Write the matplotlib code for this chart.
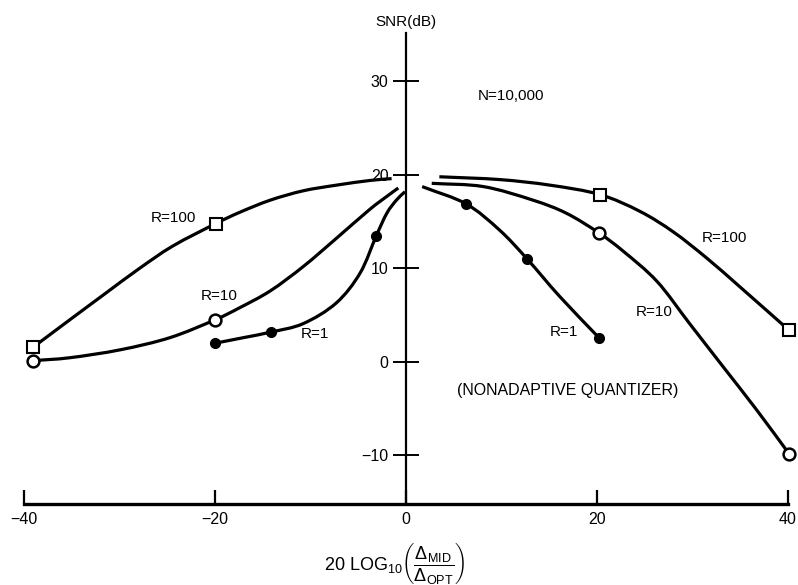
import matplotlib
matplotlib.use("Agg")
import numpy as np
from matplotlib import pyplot as plt
from matplotlib.path import Path
from matplotlib.patches import PathPatch

plt.rcParams['font.family'] = ['Liberation Sans', 'DejaVu Sans']
plt.rcParams['mathtext.fontset'] = 'custom'
plt.rcParams['mathtext.rm'] = 'Liberation Sans'
plt.rcParams['mathtext.it'] = 'Liberation Sans'
plt.rcParams['mathtext.default'] = 'regular'

# curves, x = 20 log10(dmid/dopt), y = SNR (dB)
left_r100_x = [-39.0, -35.2, -31.5, -27.9, -24.4, -19.9, -17.4, -14.2, -10.75, -7.3, -3.8, -1.5]
left_r100_y = [1.6, 4.5, 7.3, 10.0, 12.4, 14.8, 16.0, 17.3, 18.3, 18.9, 19.4, 19.6]
left_r10_x = [-39.0, -35.2, -29.9, -24.7, -20.0, -17.4, -14.2, -10.75, -7.3, -3.8, -2.0, -0.8]
left_r10_y = [0.14, 0.45, 1.3, 2.6, 4.5, 5.8, 7.6, 10.2, 13.2, 16.3, 17.7, 18.6]
left_r1_x = [-20.0, -17.0, -14.1, -10.75, -7.3, -4.8, -3.1, -2.0, -1.0, -0.1]
left_r1_y = [2.0, 2.6, 3.2, 4.1, 6.3, 9.5, 13.5, 15.9, 17.3, 18.2]

right_r100_x = [3.5, 9.8, 15.1, 20.3, 24.5, 28.0, 31.5, 35.0, 40.1]
right_r100_y = [19.8, 19.5, 18.9, 17.9, 16.1, 13.9, 11.1, 8.0, 3.4]
right_r10_x = [2.7, 8.1, 13.3, 16.8, 20.2, 22.8, 26.3, 29.7, 33.2, 36.7, 40.1]
right_r10_y = [19.1, 18.75, 17.3, 15.9, 13.8, 11.8, 8.6, 4.1, -0.5, -5.1, -9.8]
right_r1_x = [1.7, 6.3, 9.8, 12.7, 16.1, 20.2]
right_r1_y = [18.75, 16.9, 14.1, 11.0, 7.0, 2.6]

# measured points (markers)
r100_pts_x = [-39.0, -19.9, 20.3, 40.1]
r100_pts_y = [1.6, 14.8, 17.9, 3.4]
r10_pts_x = [-39.0, -20.0, 20.2, 40.1]
r10_pts_y = [0.14, 4.5, 13.8, -9.8]
r1_pts_x = [-20.0, -14.1, -3.1, 6.3, 12.7, 20.2]
r1_pts_y = [2.0, 3.2, 13.5, 16.9, 11.0, 2.6]

x_ticks = [-40, -20, 0, 20, 40]
y_ticks = [-10, 0, 10, 20, 30]
x_tick_labels = ['\u221240', '\u221220', '0', '20', '40']
y_tick_labels = ['\u221210', '0', '10', '20', '30']


def smooth_path(xs, ys):
    # Catmull-Rom through the read points, drawn as cubic Bezier segments
    p = np.column_stack([xs, ys])
    ext = np.vstack([2 * p[0] - p[1], p, 2 * p[-1] - p[-2]])
    verts = [p[0]]
    codes = [Path.MOVETO]
    for i in range(1, len(ext) - 2):
        c1 = ext[i] + (ext[i + 1] - ext[i - 1]) / 6
        c2 = ext[i + 1] - (ext[i + 2] - ext[i]) / 6
        verts += [c1, c2, ext[i + 1]]
        codes += [Path.CURVE4] * 3
    return Path(verts, codes)


fig = plt.figure(figsize=(7.98, 5.85), dpi=100)
ax = fig.add_axes([0, 0, 1, 1])
ax.set_xlim(-42.5, 41.05)
ax.set_ylim(-23.85, 38.7)

for xs, ys in [(left_r100_x, left_r100_y), (left_r10_x, left_r10_y), (left_r1_x, left_r1_y),
               (right_r100_x, right_r100_y), (right_r10_x, right_r10_y), (right_r1_x, right_r1_y)]:
    ax.add_patch(PathPatch(smooth_path(xs, ys), fill=False, edgecolor='black', lw=2.3,
                           capstyle='butt', zorder=3))

ax.plot(r100_pts_x, r100_pts_y, ls='none', marker='s', ms=8, mfc='white', mec='black', mew=1.5, zorder=4)
ax.plot(r10_pts_x, r10_pts_y, ls='none', marker='o', ms=8.5, mfc='white', mec='black', mew=1.8, zorder=4)
ax.plot(r1_pts_x, r1_pts_y, ls='none', marker='o', ms=7, mfc='black', mec='black', zorder=4)

# axes: vertical through 0, horizontal at the bottom
for s in ['top', 'right']:
    ax.spines[s].set_visible(False)
ax.spines['left'].set_position(('data', 0))
ax.spines['left'].set_bounds(-15.2, 35.2)
ax.spines['left'].set_linewidth(1.6)
ax.spines['bottom'].set_position(('data', -15.2))
ax.spines['bottom'].set_bounds(-40, 40)
ax.spines['bottom'].set_linewidth(2.4)

ax.set_xticks(x_ticks)
ax.set_xticklabels(x_tick_labels)
ax.set_yticks(y_ticks)
ax.set_yticklabels(y_tick_labels)
ax.tick_params(axis='x', direction='in', length=10, width=1.6, pad=6, labelsize=11.5)
ax.tick_params(axis='y', direction='inout', length=19, width=1.4, pad=3, labelsize=11.5)

ax.text(0, 36.4, 'SNR(dB)', ha='center', va='center', fontsize=11)
ax.text(11.0, 28.4, 'N=10,000', ha='center', va='center', fontsize=11)
ax.text(-24.3, 15.4, 'R=100', ha='center', va='center', fontsize=11)
ax.text(-19.5, 7.0, 'R=10', ha='center', va='center', fontsize=11)
ax.text(-9.5, 3.0, 'R=1', ha='center', va='center', fontsize=11)
ax.text(33.3, 13.3, 'R=100', ha='center', va='center', fontsize=11)
ax.text(26.0, 5.35, 'R=10', ha='center', va='center', fontsize=11)
ax.text(16.5, 3.2, 'R=1', ha='center', va='center', fontsize=11)
ax.text(16.9, -3.0, '(NONADAPTIVE QUANTIZER)', ha='center', va='center', fontsize=11.5)
ax.text(-1.2, -21.6, r'$20\ LOG_{10}\left(\dfrac{\Delta_{MID}}{\Delta_{OPT}}\right)$',
        ha='center', va='center', fontsize=13)

fig.savefig('out.png', dpi=100)
